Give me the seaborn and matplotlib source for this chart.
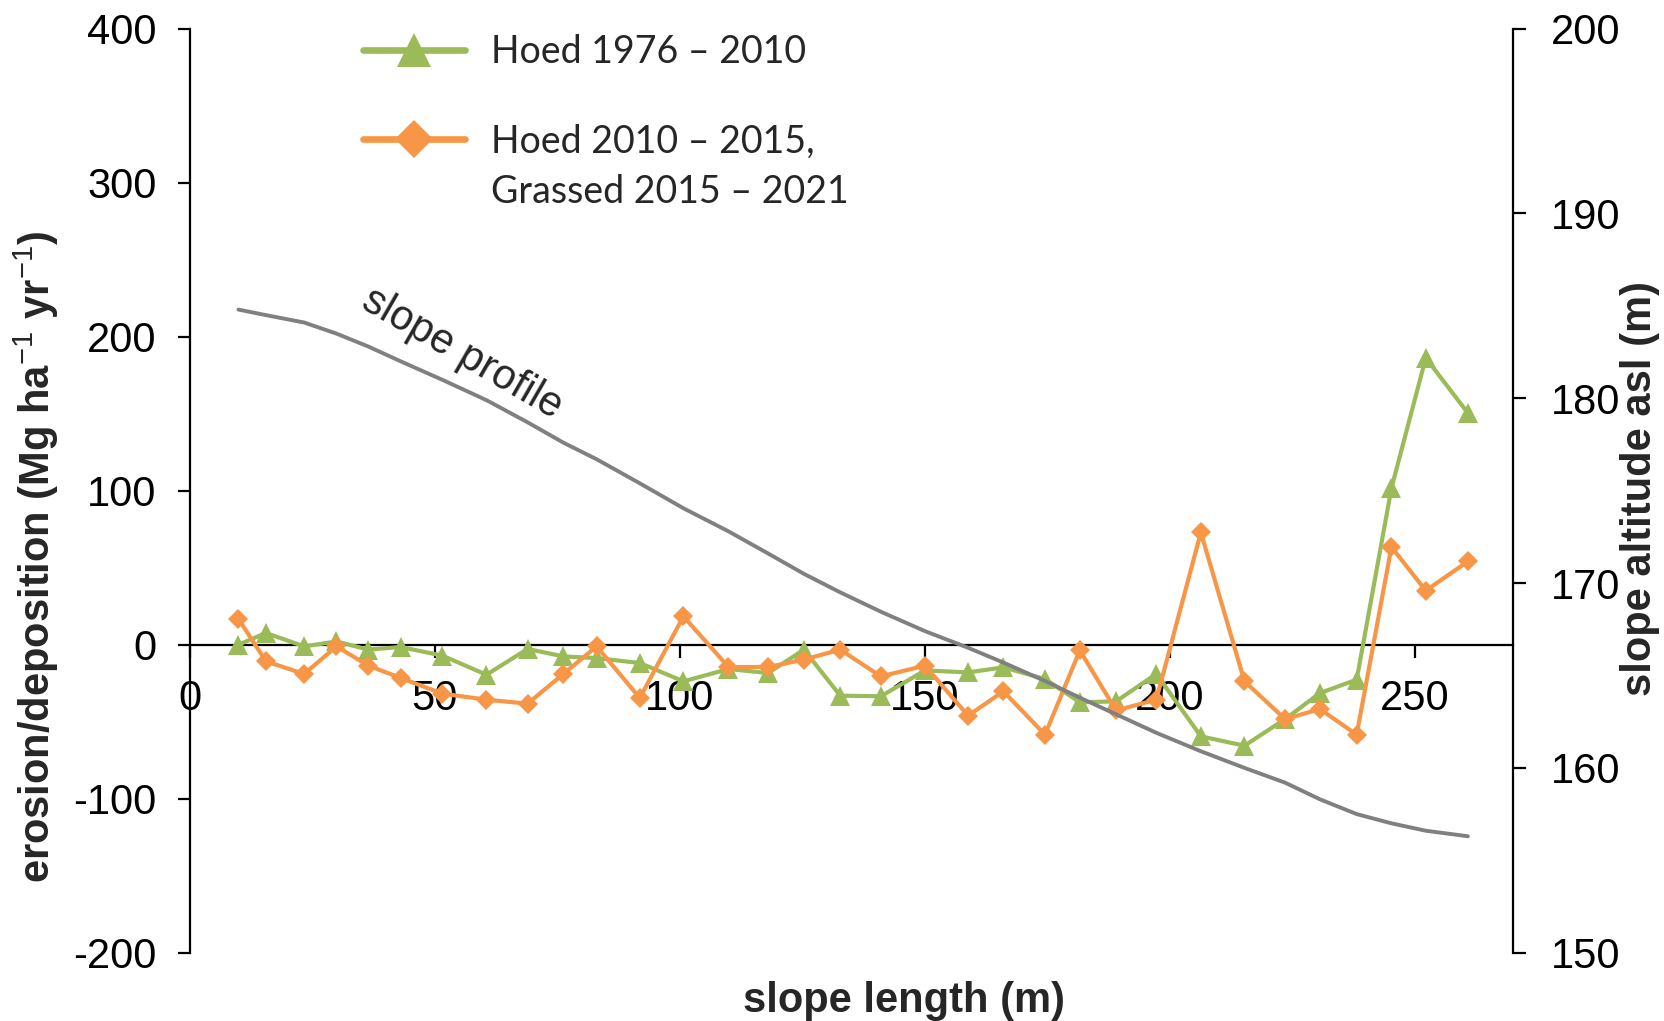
import numpy as np
import pandas as pd
import matplotlib
matplotlib.use("Agg")
import matplotlib.pyplot as plt
import seaborn as sns

# values
distance = [9.9, 15.5, 23.3, 29.9, 36.4, 43.0, 51.5, 60.5, 68.9, 76.2, 83.0,
            91.8, 100.7, 109.9, 118.0, 125.3, 132.7, 141.0, 150.0, 158.8, 166.0,
            174.5, 181.6, 189.0, 197.2, 206.3, 215.2, 223.5, 230.6, 238.1, 245.2,
            252.2, 260.8]
hoed_1976_2010 = [0.0, 7.6, -1.1, 2.1, -3.2, -1.5, -7.1, -19.5, -2.8, -7.6, -8.7,
                  -11.9, -23.8, -15.8, -18.4, -3.2, -33.1, -33.5, -16.7, -18.0, -14.7,
                  -22.3, -37.4, -36.8, -19.0, -59.5, -65.6, -48.3, -31.4, -22.7, 101.7,
                  186.2, 150.4]
hoed_grassed = [16.7, -10.8, -19.0, -1.1, -13.6, -21.6, -31.8, -35.7, -38.3, -19.0, -1.1,
                -34.6, 18.4, -14.5, -14.5, -9.7, -3.2, -20.6, -13.6, -46.1, -30.3,
                -58.4, -3.7, -42.7, -35.7, 72.9, -23.8, -48.3, -41.8, -58.4, 63.4,
                35.1, 54.1]
altitude = [184.8, 184.5, 184.1, 183.5, 182.8, 182.0, 181.0, 179.9, 178.7, 177.6, 176.7,
            175.4, 174.05, 172.8, 171.6, 170.5, 169.5, 168.45, 167.4, 166.5, 165.7,
            164.7, 163.8, 162.9, 161.9, 160.9, 160.0, 159.2, 158.3, 157.5, 157.0,
            156.6, 156.3]

x_ticks = [0, 50, 100, 150, 200, 250]
left_ticks = [-200, -100, 0, 100, 200, 300, 400]
right_ticks = [150, 160, 170, 180, 190, 200]

green = "#9BBB59"
orange = "#F79646"
grey = "#808080"

sns.set_style("white")
plt.rcParams["font.family"] = ["Liberation Sans", "DejaVu Sans"]
plt.rcParams["axes.unicode_minus"] = False
plt.rcParams["mathtext.fontset"] = "custom"
plt.rcParams["mathtext.rm"] = "Liberation Sans"
plt.rcParams["mathtext.bf"] = "Liberation Sans:bold"

df = pd.DataFrame({"distance": distance, "hoed": hoed_1976_2010,
                   "grassed": hoed_grassed, "altitude": altitude})

fig = plt.figure(figsize=(16.65, 10.21), dpi=100)
ax = fig.add_axes([0.1141, 0.0669, 0.7946, 0.9050])

sns.lineplot(data=df, x="distance", y="hoed", ax=ax, color=green, marker="^",
             sort=False, label="Hoed 1976 – 2010", zorder=3)
sns.lineplot(data=df, x="distance", y="grassed", ax=ax, color=orange, marker="D",
             sort=False, label="Hoed 2010 – 2015,", zorder=3)
for ln, ms in zip(ax.lines, [15, 10.5]):
    ln.set_linewidth(3.0)
    ln.set_markersize(ms)
    ln.set_markeredgewidth(0)

ax2 = ax.twinx()
sns.lineplot(data=df, x="distance", y="altitude", ax=ax2, color=grey,
             sort=False, legend=False)
for ln in ax2.lines:
    ln.set_linewidth(2.8)

ax.set_xlim(0, 270)
ax.set_ylim(-200, 400)
ax2.set_ylim(150, 200)
ax.set_xticks(x_ticks)
ax.set_yticks(left_ticks)
ax2.set_yticks(right_ticks)

for s in ["top", "right"]:
    ax.spines[s].set_visible(False)
for s in ["top", "bottom", "left"]:
    ax2.spines[s].set_visible(False)
ax.spines["bottom"].set_position(("data", 0))
for sp in [ax.spines["left"], ax.spines["bottom"], ax2.spines["right"]]:
    sp.set_color("black")
    sp.set_linewidth(1.6)

ax.tick_params(axis="x", direction="out", length=9, width=1.6, labelsize=30,
               pad=16, bottom=True, colors="black")
ax.tick_params(axis="y", direction="out", length=9, width=1.6, labelsize=30,
               pad=15, left=True, colors="black")
ax2.tick_params(axis="y", direction="out", length=9, width=1.6, labelsize=30,
                pad=18, right=True, colors="black")

ax.set_xlabel("slope length (m)", fontsize=30, fontweight="bold", va="center")
ax.xaxis.set_label_coords(0.5394, -0.052)
ax.set_ylabel("erosion/deposition (Mg ha$^{-1}$ yr$^{-1}$)", fontsize=30,
              fontweight="bold", va="center")
ax.yaxis.set_label_coords(-0.116, 0.428)
ax2.set_ylabel("slope altitude asl (m)", fontsize=30, fontweight="bold",
               va="center")
ax2.yaxis.set_label_coords(1.096, 0.502)

ax.text(55.5, 189.0, "slope profile", rotation=-30, ha="center", va="center",
        fontsize=30)

leg = ax.legend(loc="upper left", bbox_to_anchor=(0.131, 0.994), frameon=False,
                prop={"family": ["Lato", "DejaVu Sans"], "size": 27},
                handlelength=2.7, handletextpad=0.7, labelspacing=1.42,
                borderpad=0, borderaxespad=0)
for h, ms in zip(leg.get_lines(), [24, 19]):
    h.set_linewidth(4.8)
    h.set_markersize(ms)
    h.set_markeredgewidth(0)
t = leg.get_texts()[1]
fig.canvas.draw()
bb = t.get_window_extent()
fig.text(bb.x0 / fig.bbox.width, (bb.y0 - 51) / fig.bbox.height,
         "Grassed 2015 – 2021", fontsize=27, family=["Lato", "DejaVu Sans"],
         ha="left", va="bottom")

fig.savefig("out.png", dpi=100)
